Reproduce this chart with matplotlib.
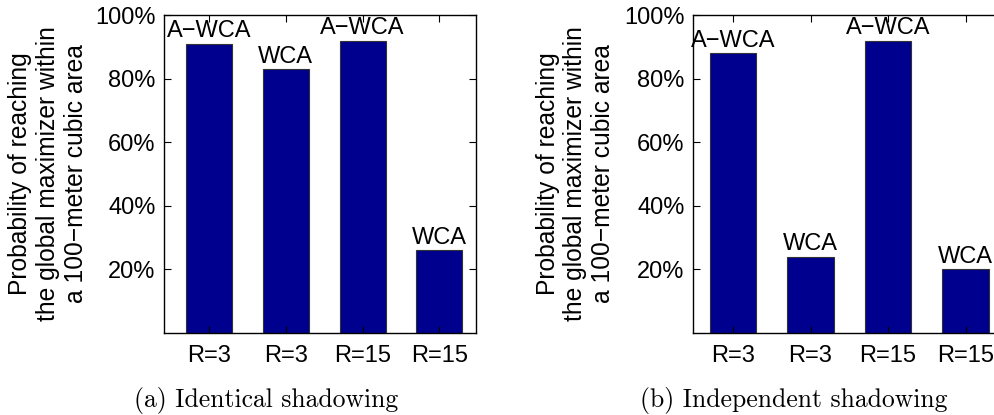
import numpy as np
import matplotlib
matplotlib.use("Agg")
import matplotlib.pyplot as plt

plt.rcParams['font.family'] = ['Liberation Sans', 'DejaVu Sans']

# bar groups and success probabilities for the two shadowing models
tickLabels = ["R=3", "R=3", "R=15", "R=15"]
barNames = ["A\u2212WCA", "WCA", "A\u2212WCA", "WCA"]
identicalProb = [0.91, 0.83, 0.92, 0.26]
independentProb = [0.88, 0.24, 0.92, 0.20]
yTicks = [0.2, 0.4, 0.6, 0.8, 1.0]
yTickLabels = ["20%", "40%", "60%", "80%", "100%"]
ylabelText = "Probability of reaching\nthe global maximizer within\na 100\u2212meter cubic area"
captions = ["(a) Identical shadowing", "(b) Independent shadowing"]

barColor = "#00008F"
fontSize = 17

fig = plt.figure(figsize=(9.95, 4.15), dpi=100)


def drawPanel(rect, values, xlim, labelX, caption, captionX):
    ax = fig.add_axes(rect)
    positions = np.arange(1, len(values) + 1)
    ax.bar(positions, values, width=0.6, color=barColor, edgecolor="#333333", linewidth=0.8)
    # algorithm name sits just above each bar
    for pos, val, name in zip(positions, values, barNames):
        ax.text(pos, val + 0.02, name, ha="center", va="baseline", fontsize=fontSize, clip_on=False)
    ax.set_xlim(*xlim)
    ax.set_ylim(0, 1.0)
    ax.set_xticks(positions)
    ax.set_xticklabels(tickLabels, fontsize=fontSize)
    ax.set_yticks(yTicks)
    ax.set_yticklabels(yTickLabels, fontsize=fontSize)
    ax.tick_params(direction="in", top=True, right=True, length=5, width=0.8, pad=6)
    ax.tick_params(axis="x", pad=9)
    for spine in ax.spines.values():
        spine.set_linewidth(1.0)
    ax.set_ylabel(ylabelText, fontsize=17.7, linespacing=1.2, multialignment="center")
    ax.yaxis.set_label_coords(labelX, 0.5)
    fig.text(captionX, 0.019, caption, ha="center", va="baseline", fontsize=18.5,
             family=["cmr10", "DejaVu Serif"])
    return ax


drawPanel([0.1648, 0.1976, 0.3136, 0.766], identicalProb, (0.41, 4.48), -0.244,
          captions[0], 0.267)
drawPanel([0.6962, 0.1976, 0.3131, 0.766], independentProb, (0.48, 4.5), -0.249,
          captions[1], 0.798)

fig.savefig("out.png", dpi=100)
